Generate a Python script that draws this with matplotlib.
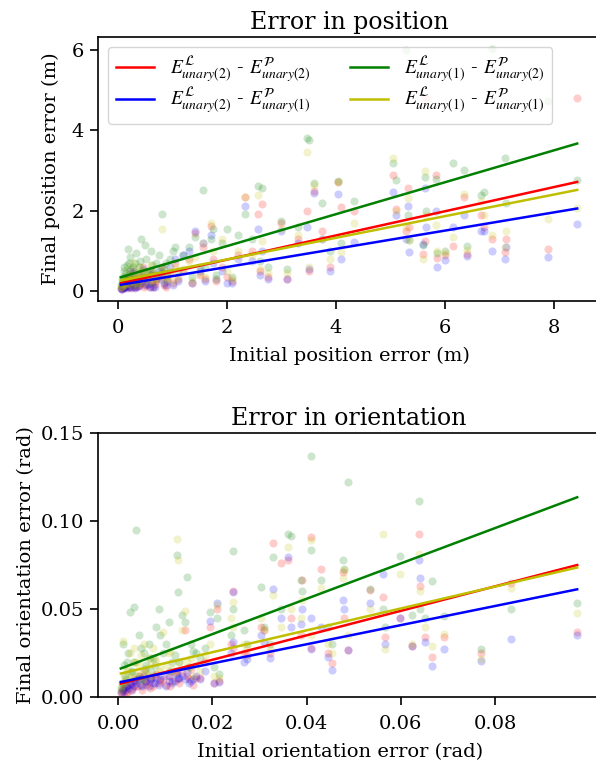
import matplotlib
matplotlib.use("Agg")
import matplotlib.pyplot as plt
import numpy as np

plt.rcParams['font.family'] = ['DejaVu Serif']
plt.rcParams['mathtext.fontset'] = 'stix'

labels = [r'$E^{\mathcal{L}}_{unary(2)}$ - $E^{\mathcal{P}}_{unary(2)}$',
          r'$E^{\mathcal{L}}_{unary(2)}$ - $E^{\mathcal{P}}_{unary(1)}$',
          r'$E^{\mathcal{L}}_{unary(1)}$ - $E^{\mathcal{P}}_{unary(2)}$',
          r'$E^{\mathcal{L}}_{unary(1)}$ - $E^{\mathcal{P}}_{unary(1)}$']
colors = ['r', 'b', 'g', 'y']

# ---------------- Position data ----------------
pos_init = [0.05, 0.08, 0.1, 0.12, 0.15, 0.18, 0.2, 0.22, 0.25, 0.28, 0.3, 0.33, 0.35, 0.4,
            0.42, 0.45, 0.5, 0.55, 0.6, 0.65, 0.7, 0.75, 0.81, 0.85, 0.9, 0.95, 1.0, 1.05,
            1.1, 1.2, 1.3, 1.35, 1.42, 1.5, 1.55, 1.6, 1.7, 1.75, 1.8, 1.9, 2.0, 2.1, 2.2,
            2.33, 2.45, 2.56, 2.6, 2.65, 2.75, 2.99, 3.1, 3.3, 3.46, 3.5, 3.6, 3.75, 3.9,
            4.03, 4.09, 4.34, 5.29, 5.66, 5.04, 5.1, 5.32, 5.35, 5.59, 5.64, 6.86, 5.83,
            5.85, 6.0, 6.15, 6.36, 6.4, 6.67, 6.72, 7.1, 7.13, 7.9, 8.43,
            0.07, 0.09, 0.11, 0.13, 0.16, 0.19, 0.23, 0.26, 0.31, 0.36, 0.38, 0.47, 0.52,
            0.58, 0.62, 0.68, 0.78, 0.88]
pos_red = [0.08, 0.1, 0.15, 0.12, 0.2, 0.25, 0.1, 0.35, 0.18, 0.5, 0.15, 0.3, 0.12, 0.4,
           0.2, 0.6, 0.15, 0.3, 0.5, 0.12, 0.25, 0.35, 0.6, 0.15, 0.3, 0.45, 0.2, 0.7,
           0.3, 0.5, 0.8, 0.2, 1.45, 0.4, 1.1, 0.3, 1.63, 0.8, 0.25, 0.6, 0.35, 0.25, 0.9,
           2.34, 1.0, 1.92, 0.5, 2.16, 0.35, 1.7, 0.3, 1.3, 2.0, 0.5, 2.5, 1.5, 0.6,
           2.71, 2.09, 2.0, 1.5, 4.81, 2.9, 2.05, 2.57, 1.61, 0.93, 1.25, 1.3, 2.9,
           0.83, 0.9, 1.13, 2.34, 0.94, 1.9, 1.6, 0.98, 1.3, 1.06, 4.81,
           0.06, 0.12, 0.09, 0.2, 0.14, 0.3, 0.08, 0.22, 0.1, 0.28, 0.16, 0.12, 0.35,
           0.1, 0.25, 0.18, 0.4, 0.12]
pos_blue = [0.07, 0.09, 0.12, 0.1, 0.3, 0.15, 0.12, 0.5, 0.2, 0.45, 0.1, 0.25, 0.14, 0.35,
            0.25, 0.55, 0.2, 0.18, 0.4, 0.1, 0.3, 0.5, 0.45, 0.2, 0.25, 0.6, 0.15, 0.8,
            0.25, 0.9, 1.0, 0.2, 1.5, 0.5, 1.2, 0.25, 1.4, 0.7, 0.3, 0.5, 0.2, 0.2, 0.8,
            2.13, 0.75, 1.55, 0.4, 1.0, 0.3, 1.5, 0.3, 1.2, 1.6, 0.55, 2.45, 1.3, 0.5,
            2.42, 0.8, 1.22, 1.3, 1.6, 2.48, 1.9, 2.13, 0.99, 1.17, 2.57, 1.0, 2.0,
            0.6, 0.77, 1.61, 1.9, 0.87, 1.5, 1.5, 0.8, 1.1, 0.85, 1.68,
            0.07, 0.1, 0.12, 0.15, 0.09, 0.25, 0.11, 0.18, 0.08, 0.2, 0.14, 0.3, 0.16,
            0.12, 0.2, 0.1, 0.3, 0.15]
pos_green = [0.15, 0.3, 0.6, 0.25, 0.45, 1.05, 0.7, 0.85, 0.4, 0.6, 0.3, 0.95, 0.2, 0.75,
             1.3, 0.5, 1.15, 0.45, 1.0, 0.5, 0.7, 0.9, 1.92, 0.55, 0.4, 0.8, 1.0, 1.1,
             0.5, 0.9, 1.1, 0.35, 1.35, 0.6, 2.52, 0.6, 1.3, 1.55, 0.4, 1.2, 1.55, 0.35, 1.4,
             1.92, 1.3, 2.62, 0.75, 2.58, 0.6, 1.75, 0.55, 1.6, 3.82, 3.77, 2.7, 2.2, 1.0,
             2.75, 1.2, 2.25, 6.0, 2.0, 3.2, 2.77, 1.9, 1.28, 1.15, 2.85, 6.02, 2.8,
             0.95, 1.0, 3.2, 3.01, 1.13, 2.4, 2.46, 3.32, 2.2, 4.74, 2.77,
             0.2, 0.35, 0.5, 0.3, 0.65, 0.4, 0.55, 0.3, 0.7, 0.45, 0.6, 0.35, 0.8,
             0.5, 0.65, 0.4, 0.55, 0.7]
pos_yellow = [0.1, 0.12, 0.2, 0.15, 0.35, 0.55, 0.18, 0.3, 0.25, 0.7, 0.2, 0.45, 0.15, 0.6,
              0.3, 0.5, 0.3, 0.35, 0.65, 0.2, 0.3, 0.4, 1.55, 0.25, 0.3, 0.5, 0.25, 0.6,
              0.35, 0.55, 0.75, 0.25, 0.85, 0.45, 1.2, 0.35, 1.7, 1.0, 0.3, 1.3, 0.5, 0.3, 1.0,
              2.34, 0.9, 2.4, 0.55, 1.25, 0.45, 1.55, 0.45, 1.4, 3.45, 0.6, 2.65, 1.3, 0.8,
              2.71, 0.97, 1.7, 1.6, 1.9, 3.32, 2.0, 2.32, 1.28, 0.8, 2.98, 1.4, 1.65,
              1.0, 0.95, 1.36, 2.42, 1.03, 2.25, 1.9, 1.11, 1.5, 1.8, 2.07,
              0.1, 0.15, 0.25, 0.18, 0.3, 0.2, 0.4, 0.15, 0.35, 0.22, 0.45, 0.2, 0.5,
              0.25, 0.4, 0.3, 0.5, 0.35]
pos_fit_slope = [0.300, 0.226, 0.396, 0.2685]
pos_fit_intercept = [0.190, 0.154, 0.334, 0.257]

# ---------------- Orientation data ----------------
ori_init = [0.0006, 0.001, 0.0015, 0.002, 0.0026, 0.003, 0.0035, 0.0039, 0.0045, 0.005,
            0.0055, 0.006, 0.0065, 0.007, 0.0075, 0.008, 0.0086, 0.0095, 0.0102, 0.0108,
            0.0115, 0.0125, 0.0128, 0.0135, 0.0142, 0.0147, 0.0155, 0.0165, 0.0175, 0.0185,
            0.0196, 0.0203, 0.0209, 0.0214, 0.0239, 0.0243, 0.0245, 0.0267, 0.0274, 0.0303,
            0.031, 0.0322, 0.0328, 0.0345, 0.036, 0.0368, 0.0388, 0.039, 0.0409, 0.041,
            0.043, 0.0446, 0.0455, 0.0477, 0.048, 0.0487, 0.0535, 0.0563, 0.0567, 0.0599,
            0.0624, 0.0638, 0.064, 0.0652, 0.0666, 0.0691, 0.0771, 0.0833, 0.0974,
            0.0008, 0.0012, 0.0018, 0.0022, 0.0028, 0.0033, 0.0042, 0.0048, 0.0058,
            0.0068, 0.0078, 0.009, 0.011, 0.012, 0.013, 0.015, 0.016]
ori_red = [0.002, 0.004, 0.006, 0.003, 0.008, 0.005, 0.01, 0.006, 0.012, 0.004,
           0.015, 0.007, 0.009, 0.011, 0.006, 0.013, 0.008, 0.01, 0.007, 0.012,
           0.009, 0.015, 0.01, 0.014, 0.038, 0.012, 0.016, 0.011, 0.011, 0.02,
           0.04, 0.008, 0.05, 0.009, 0.03, 0.028, 0.06, 0.025, 0.0237, 0.04,
           0.038, 0.025, 0.0877, 0.0764, 0.078, 0.045, 0.035, 0.0665, 0.091, 0.028,
           0.073, 0.025, 0.0195, 0.071, 0.045, 0.0269, 0.061, 0.057, 0.0343, 0.045,
           0.0287, 0.0925, 0.063, 0.034, 0.0228, 0.034, 0.025, 0.0646, 0.037,
           0.003, 0.005, 0.002, 0.007, 0.004, 0.009, 0.006, 0.011, 0.008,
           0.005, 0.012, 0.009, 0.006, 0.014, 0.008, 0.01, 0.007]
ori_blue = [0.003, 0.005, 0.004, 0.006, 0.007, 0.004, 0.009, 0.008, 0.01, 0.006,
            0.012, 0.009, 0.006, 0.01, 0.008, 0.011, 0.007, 0.012, 0.006, 0.009,
            0.008, 0.013, 0.011, 0.012, 0.01, 0.014, 0.009, 0.012, 0.01, 0.015,
            0.043, 0.008, 0.0536, 0.0085, 0.025, 0.031, 0.0595, 0.02, 0.0218, 0.035,
            0.0313, 0.022, 0.0615, 0.045, 0.0795, 0.04, 0.0415, 0.05, 0.045, 0.027,
            0.04, 0.023, 0.0155, 0.055, 0.05, 0.0269, 0.0533, 0.07, 0.03, 0.0448,
            0.0287, 0.078, 0.0675, 0.0315, 0.0178, 0.0275, 0.0203, 0.0327, 0.035,
            0.004, 0.003, 0.006, 0.005, 0.008, 0.006, 0.01, 0.007, 0.009,
            0.011, 0.008, 0.01, 0.012, 0.009, 0.011, 0.008, 0.01]
ori_green = [0.005, 0.03, 0.012, 0.02, 0.0484, 0.015, 0.051, 0.095, 0.035, 0.01,
             0.025, 0.018, 0.03, 0.015, 0.022, 0.04, 0.05, 0.025, 0.03, 0.0425,
             0.02, 0.0807, 0.0595, 0.0465, 0.0425, 0.068, 0.03, 0.025, 0.022, 0.028,
             0.0485, 0.017, 0.045, 0.013, 0.035, 0.083, 0.05, 0.038, 0.03, 0.0625,
             0.04, 0.03, 0.0794, 0.05, 0.0925, 0.0915, 0.0665, 0.06, 0.137, 0.0835,
             0.0665, 0.04, 0.03, 0.078, 0.0725, 0.1224, 0.0615, 0.05, 0.04, 0.08,
             0.0465, 0.1116, 0.05, 0.045, 0.066, 0.046, 0.027, 0.05, 0.0535,
             0.008, 0.018, 0.01, 0.025, 0.014, 0.02, 0.012, 0.028, 0.016,
             0.022, 0.018, 0.035, 0.015, 0.024, 0.02, 0.017, 0.026]
ori_yellow = [0.004, 0.032, 0.008, 0.015, 0.025, 0.012, 0.028, 0.02, 0.018, 0.009,
              0.03, 0.014, 0.022, 0.012, 0.028, 0.02, 0.015, 0.037, 0.018, 0.025,
              0.016, 0.09, 0.0776, 0.038, 0.049, 0.02, 0.022, 0.018, 0.015, 0.024,
              0.03, 0.012, 0.052, 0.011, 0.045, 0.054, 0.04, 0.03, 0.028, 0.045,
              0.038, 0.027, 0.058, 0.04, 0.0855, 0.05, 0.045, 0.055, 0.089, 0.035,
              0.062, 0.03, 0.025, 0.0675, 0.072, 0.035, 0.05, 0.0925, 0.027, 0.07,
              0.03, 0.081, 0.06, 0.04, 0.029, 0.036, 0.0215, 0.062, 0.048,
              0.006, 0.012, 0.009, 0.016, 0.011, 0.02, 0.014, 0.024, 0.013,
              0.018, 0.022, 0.016, 0.026, 0.014, 0.02, 0.017, 0.012]
ori_fit_slope = [0.696, 0.544, 1.005, 0.622]
ori_fit_intercept = [0.0072, 0.0082, 0.0156, 0.013]

W, H = 596, 773
fig = plt.figure(figsize=(W / 100, H / 100), dpi=100)

def px_axes(l, t, r, b):
    return fig.add_axes([l / W, 1 - b / H, (r - l) / W, (b - t) / H])

ax1 = px_axes(98, 37, 600, 301)
ax2 = px_axes(98, 433, 600, 697)

def draw(ax, x, ys, slopes, intercepts):
    x = np.asarray(x)
    for yv, c in zip(ys, colors):
        ax.scatter(x, yv, s=34, color=c, alpha=0.2, linewidths=0)
    xs = np.array([x.min(), x.max()])
    for m, b, c, lab in zip(slopes, intercepts, colors, labels):
        ax.plot(xs, m * xs + b, color=c, lw=1.8, label=lab)
    for sp in ['top', 'bottom', 'left', 'right']:
        ax.spines[sp].set_linewidth(1.2)
    ax.tick_params(axis='both', labelsize=14, length=5.8, width=1.2, direction='out')
    ax.tick_params(axis='x', pad=7.5)
    ax.tick_params(axis='y', pad=4.5)

draw(ax1, pos_init, [pos_red, pos_blue, pos_green, pos_yellow], pos_fit_slope, pos_fit_intercept)
ax1.set_xticks([0, 2, 4, 6, 8])
ax1.set_yticks([0, 2, 4, 6])
ax1.set_title('Error in position', fontsize=17)
ax1.set_xlabel('Initial position error (m)', fontsize=14, labelpad=7)
ax1.set_ylabel('Final position error (m)', fontsize=14, labelpad=8)
ax1.legend(loc='upper left', ncol=2, fontsize=14, handlelength=2.0, labelspacing=0.05)

draw(ax2, ori_init, [ori_red, ori_blue, ori_green, ori_yellow], ori_fit_slope, ori_fit_intercept)
ax2.set_ylim(0, 0.15)
ax2.set_xticks([0.0, 0.02, 0.04, 0.06, 0.08])
ax2.set_yticks([0.0, 0.05, 0.10, 0.15])
ax2.set_title('Error in orientation', fontsize=17)
ax2.set_xlabel('Initial orientation error (rad)', fontsize=14, x=0.483, labelpad=7)
ax2.set_ylabel('Final orientation error (rad)', fontsize=14)

fig.savefig('out.png', dpi=100)
